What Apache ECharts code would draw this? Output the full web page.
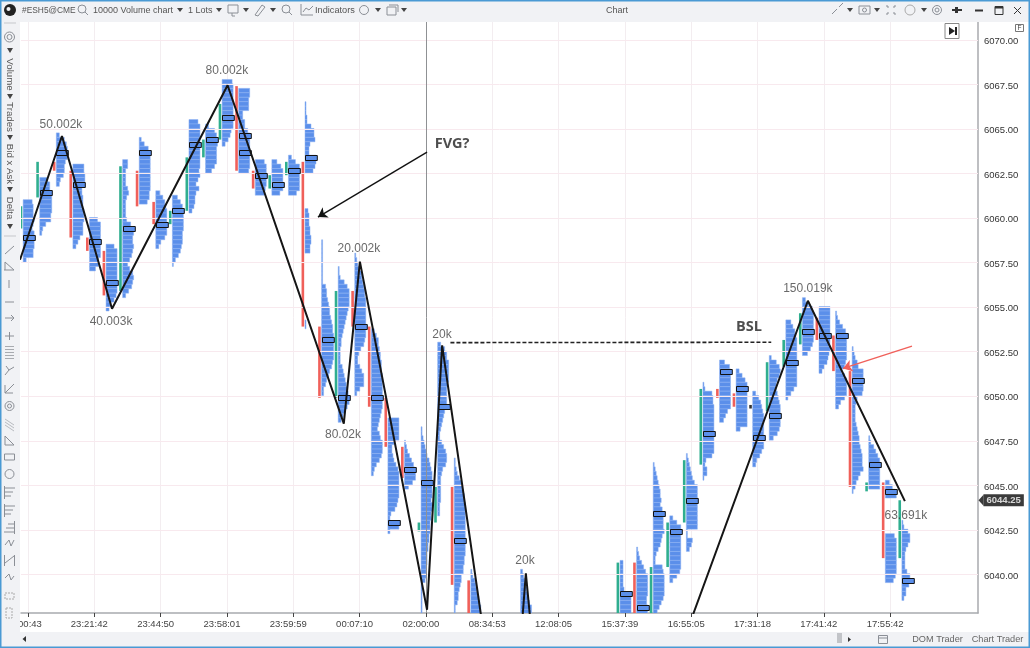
<!DOCTYPE html>
<html><head><meta charset="utf-8">
<style>html,body{margin:0;padding:0;background:#fff}#c{width:1030px;height:648px}</style>
<script src="https://cdn.jsdelivr.net/npm/echarts@6/dist/echarts.min.js"></script>
</head><body><div id="c"></div>
<script>
// ---------- data ----------
const priceTicks = [6040,6042.5,6045,6047.5,6050,6052.5,6055,6057.5,6060,6062.5,6065,6067.5,6070];
const timeLabels = ['00:43','23:21:42','23:44:50','23:58:01','23:59:59','00:07:10','02:00:00','08:34:53','12:08:05','15:37:39','16:55:05','17:31:18','17:41:42','17:55:42'];
const lastPrice = 6044.25;
// bar number, body high, body low, direction (1 up, -1 down, 0 doji)
const barNumbers = [0,1,2,3,4,5,6,7,8,9,10,11,12,13,14,15,16,17,18,19,20,21,22,23,24,25,26,27,36,37,38,39,40,41,42,43,44,45,46,47,48,49,50,51,52,53];
const bodyHigh = [6060.75,6063.25,6063.25,6062.75,6059,6058.25,6063,6062.75,6061,6060.5,6063.5,6064.5,6066.5,6067.5,6062.75,6062.5,6063.25,6063.25,6054,6056,6056,6054,6050,6047.25,6043,6045,6045,6039.75,6040.75,6040.75,6040.5,6043,6046.5,6050.5,6050.5,6050.25,6049.6,6052,6053.25,6054.75,6054.5,6053.5,6051.5,6045.25,6045.25,6044.25];
const bodyLow = [6059.5,6061.25,6062.75,6059,6058.25,6055.75,6056,6060.75,6059.75,6059.75,6060.5,6063.5,6064.5,6062.75,6061.75,6061.75,6062.5,6054,6050,6050,6054,6049.5,6047.25,6045.5,6042.5,6043,6039.5,6037,6037,6037,6037,6040.5,6043,6046.25,6050,6049.5,6049.4,6049.25,6051.75,6053,6053.25,6051.5,6045,6044.75,6041,6041];
const bodyDir = [1,1,-1,-1,-1,-1,1,-1,-1,1,1,1,1,-1,-1,1,1,-1,-1,1,-1,-1,-1,-1,1,1,-1,-1,1,-1,1,1,1,1,-1,-1,0,1,1,1,-1,-1,-1,1,-1,1];
// point of control boxes
const pocBars = [0,1,2,3,4,5,6,7,8,9,10,11,12,13,13,14,15,16,17,18,19,20,21,22,23,24,25,26,36,37,38,39,40,41,42,43,44,45,46,47,48,49,50,51,52,53];
const pocPrices = [6059,6061.5,6063.75,6062,6058.75,6056.5,6059.5,6063.75,6059.75,6060.5,6064.25,6064.5,6065.75,6064.75,6063.75,6062.5,6062,6062.75,6063.5,6053.25,6050,6054,6050,6043,6046,6045.25,6049.5,6042,6039,6038.25,6043.5,6042.5,6044.25,6048,6051.5,6050.5,6047.75,6049,6052,6053.75,6053.5,6053.5,6051,6046.25,6044.75,6039.75];
// volume profile of every bar: bar number, top price, volume per 0.25 level from the top down
const profileBars = [0,1,2,3,4,5,6,7,8,9,10,11,12,13,14,15,16,17,18,19,20,21,22,23,24,25,26,27,30,36,37,38,39,40,41,42,43,44,45,46,47,48,49,50,51,52,53];
const profileTops = [6061,6062.25,6064.75,6063,6060,6058.5,6063.25,6064.5,6061.5,6061.25,6065.5,6065.25,6067.75,6067.25,6063.25,6063.25,6063.5,6066.5,6058.75,6057.25,6058,6053.75,6048.75,6047.5,6048.25,6053,6046.5,6040.25,6040.25,6040.75,6041.5,6046.25,6043.25,6046.75,6050.75,6052,6051.5,6050.25,6052.25,6054.25,6055.5,6055,6054.75,6052.75,6047.75,6045.25,6043];
const profileVolumes = [
 [9,10,10,10,11,10,9,11,11,11,11,10,10,3],
 [8,10,10,11,12,12,12,12,11,11,6,3,2],
 [3,8,10,11,11,11,9,8,8,7,4,3],
 [11,11,12,12,11,9,9,10,10,10,11,11,11,10,10,10,7,5,3],
 [8,11,11,11,11,11,11,11,11,9,9,6],
 [8,11,11,11,11,11,11,11,11,11,11,10,8,5,3],
 [5,5,3,3,3,3,5,6,4,3,3,3,3,4,8,11,11,10,10,11,10,9,7,5,7,10,11,10,9,6,3],
 [2,5,9,11,11,11,11,11,11,11,11,11,10,10,8],
 [4,7,9,10,11,11,11,11,11,11,9,5,3],
 [5,8,10,11,11,11,11,11,10,10,10,9,8,6,3,1],
 [9,11,11,11,11,11,11,11,11,11,11,10,11,9,7,10,7,6,6,5,3],
 [3,9,11,12,12,11,11,11,11,9,6],
 [10,11,11,11,11,11,11,11,11,11,11,9,8,6,3],
 [11,11,10,10,10,4,4,6,6,9,11,11,11,11,11,11,11,11,10],
 [9,11,11,11,11,11,10,9],
 [5,9,11,11,11,11,11,8],
 [3,7,11,11,11,11,11,11,8],
 [1,1,1,2,2,6,9,9,10,5,4,4,11,11,10,8,0,0,0,0,0,0,0,0,3,4,4,4,5,5,6,6,5,5,0,0,0,0,0,0,0,0,0,0,0,0,0,0,0,1,1],
 [1,1,1,1,1,1,1,1,1,1,4,5,5,6,7,8,8,9,10,11,11,12,12,12,12,12,12,11,10,8,7,5,4,2,2],
 [1,1,2,6,9,11,11,11,11,10,9,8,7,6,5,4,3,3,2,2,2,2,4,5,6,7,8,9,10,11,11,9,7,5,3],
 [1,2,3,4,7,7,8,9,10,10,11,11,11,11,11,11,11,11,11,10,9,6,4,3,3,5,7,9,9,9,5,2],
 [3,5,7,7,8,9,9,10,10,10,11,11,11,11,11,11,11,11,10,9,8,7,6,8,9,11,11,11,10,8,5,3,2],
 [11,11,11,11,11,6,4,4,5,6,8,10,11,11,11,11,11,11,10,9,7,3,2,2,11,2],
 [1,2,3,5,7,9,10,11,11,8,4],
 [1,1,2,3,4,5,6,8,9,10,11,11,11,11,11,11,10,11,11,10,10,9,9,9,8,8,7,7,6,6,6,5,5,5,4,1,1,1,1,1,1,1],
 [3,7,9,9,11,11,11,11,11,10,9,9,9,9,9,7,6,5,4,3,2,2,4,6,8,9,9,8,5,4,3,3,3,3,3,3,2,2,2],
 [1,1,2,3,5,7,8,9,10,10,11,11,11,11,11,11,11,11,11,11,11,11,10,10,9,9,7,7,6,5,4,4,3,1,1],
 [1,2,4,5,6,7,8,9,10,10],
 [2,3,4,5,6,7,8,9,11,11],
 [3,3,3,3,3,3,4,9,11,11,11,11],
 [1,2,3,5,7,9,11,11,11,11,11,10,10,11,11],
 [1,2,3,4,5,6,7,7,8,7,9,8,10,10,10,11,9,8,7,5,3,2,2,9,10,11,11,11,11,11,10,8,6,4],
 [3,7,11,11,11,11,11,11,11,11,11,11,10,7,3],
 [1,2,3,4,5,6,8,11,11,11,11,11,11,11,11,11,11,1,1,6,5,3],
 [1,2,9,10,10,11,11,11,11,11,11,11,11,11,11,11,9,3,2,4,4,1],
 [5,10,11,11,11,11,11,11,11,11,11,8,6,4],
 [3,6,9,11,11,11,11,11,11,11,11,11,11,4],
 [3,6,8,9,10,11,11,11,11,11,11,11,11,9,7,4,3],
 [2,7,10,11,10,8,7,7,8,9,10,11,11,11,11,11,10,8,4],
 [5,7,9,10,11,11,11,11,11,11,11,11,11,11,11,8,5,2],
 [3,6,10,11,11,11,11,11,11,11,10,8,5],
 [11,11,11,11,11,11,11,11,11,11,10,9,8,5,3],
 [1,2,4,7,10,11,11,11,11,11,11,10,9,6,9,11,11,11,11,9,5,3],
 [1,2,3,5,6,11,11,11,11,11,10,5,4,3,3,3,3,4,5,6,7,7,8,9,10,10,10,11,8,6,4,3,1],
 [1,2,5,7,9,11,11,11,11,11,11,11],
 [4,7,10,11,0,0,0,0,0,0,0,0,9,11,11,11,11,11,11,11,11,10,8],
 [1,2,6,8,8,6,4,3,3,3,3,5,8,8,7,4,4,2]
];
// zigzag volume swings (bar position, price); null breaks the line where it leaves the chart
const swingX = [-0.06,2.47,5.49,12.46,19.47,20.44,24.49,25.4,27.75,null,30.25,30.45,30.7,null,40.5,47.46,53.31];
const swingP = [6057.75,6064.7,6055,6067.55,6048.55,6057.65,6038.1,6052.95,6037.75,null,6037.7,6040.15,6037.7,null,6037.75,6055.45,6044.2];
const bslX = [25.9,45.25];
const bslP = [6053.1,6053.12];
const crossX = 24.43;
const noteTexts = ['50.002k','80.002k','40.003k','20.002k','80.02k','20k','20k','150.019k','63.691k'];
const noteX = [2.41,12.42,5.43,20.38,19.42,25.39,30.4,47.46,53.37];
const noteP = [6065.35,6068.35,6054.3,6058.4,6047.95,6053.55,6040.85,6056.1,6043.4];
const boldTexts = ['FVG?','BSL'];
const boldX = [26,43.9];
const boldP = [6064.25,6054];
const arrowFrom = [[24.49,6063.8],[53.74,6052.9]];
const arrowTo = [[17.91,6060.15],[49.58,6051.65]];

// ---------- flat tables for the library ----------
const profileRows = [];
profileBars.forEach((bar,i)=>profileVolumes[i].forEach((v,k)=>{ if(v>0) profileRows.push([bar,profileTops[i]-k*0.25,v]); }));
const bodyRows = barNumbers.map((b,i)=>[b,bodyHigh[i],bodyLow[i],bodyDir[i]]);
const pocRows = pocBars.map((b,i)=>[b,pocPrices[i]]);
const swingRows = swingX.map((x,i)=>[x,swingP[i]]);
const noteRows = noteTexts.map((t,i)=>({value:[noteX[i],noteP[i]],name:t}));
const boldRows = boldTexts.map((t,i)=>({value:[boldX[i],boldP[i]],name:t}));

const BLUE='#5b8fea', RED='#f0605a', GREEN='#2fae8f', DARK='#333', UI='#555', MUTED='#8b8f96', FONT='"Liberation Sans",Arial,sans-serif';
const UNIT=1/16.58, OFFSET=0.13, GRID_SHIFT=0.09;

function profileItem(params,api){
  const x=api.value(0),p=api.value(1),v=api.value(2);
  const a=api.coord([x+OFFSET,p+0.125]), b=api.coord([x+OFFSET+v*UNIT,p-0.125]);
  return {type:'rect',shape:{x:a[0],y:a[1],width:b[0]-a[0],height:b[1]-a[1]},
    style:{fill:BLUE,stroke:'#8fb2f2',lineWidth:0.5}};
}
function bodyItem(params,api){
  const x=api.value(0),d=api.value(3);
  const a=api.coord([x,api.value(1)]), b=api.coord([x,api.value(2)]);
  return {type:'rect',shape:{x:a[0]-1.3,y:a[1],width:2.6,height:Math.max(b[1]-a[1],2)},
    style:{fill:d>0?GREEN:(d<0?RED:DARK)}};
}
function pocItem(params,api){
  const x=api.value(0),p=api.value(1);
  const a=api.coord([x+OFFSET,p]), b=api.coord([x+OFFSET+11.8*UNIT,p]);
  return {type:'rect',shape:{x:Math.round(a[0])+0.5,y:Math.round(a[1]-2.5)+0.5,width:b[0]-a[0],height:5},
    style:{fill:BLUE,stroke:'#111',lineWidth:1}};
}

// ---------- window chrome ----------
const PANEL='#f1f2f5', FRAME='#4a9ad4';
const g=[];
const add=o=>{o.z=o.z||50;g.push(o);return o;};
const txt=(x,y,t,o={})=>add({type:'text',x,y,rotation:o.rot||0,style:{text:t,fill:o.c||UI,font:(o.w||'normal')+' '+(o.s||10)+'px '+FONT,align:o.a||'left',verticalAlign:'middle'}});
const caret=(x,y,c)=>add({type:'polygon',shape:{points:[[x-3,y-2],[x+3,y-2],[x,y+2]]},style:{fill:c||'#444'}});
const stroke=(pts,c)=>add({type:'polyline',shape:{points:pts},style:{stroke:c||MUTED,lineWidth:1,fill:null}});
const ring=(x,y,r,c)=>add({type:'circle',shape:{cx:x,cy:y,r},style:{stroke:c||MUTED,lineWidth:1,fill:null}});
const box=(x,y,w,h,c,f)=>add({type:'rect',shape:{x,y,width:w,height:h},style:{stroke:c||MUTED,lineWidth:1,fill:f||null}});

add({type:'rect',shape:{x:0,y:0,width:1030,height:22},style:{fill:PANEL},z:40});
add({type:'rect',shape:{x:0,y:0,width:20,height:632},style:{fill:PANEL},z:40});
add({type:'rect',shape:{x:0,y:632,width:1030,height:16},style:{fill:PANEL},z:40});
// frame
add({type:'rect',shape:{x:0,y:0,width:1030,height:1.5},style:{fill:FRAME},z:60});
add({type:'rect',shape:{x:0,y:646.5,width:1030,height:1.5},style:{fill:FRAME},z:60});
add({type:'rect',shape:{x:0,y:0,width:1.5,height:648},style:{fill:FRAME},z:60});
add({type:'rect',shape:{x:1028.5,y:0,width:1.5,height:648},style:{fill:FRAME},z:60});
// top toolbar
add({type:'circle',shape:{cx:10,cy:10,r:6},style:{fill:'#222'}});
add({type:'circle',shape:{cx:8.5,cy:9,r:2},style:{fill:'#f1f2f5'}});
txt(22,10.5,'#ESH5@CME',{s:8.4});
ring(82,9,4); stroke([[85,12],[88,15]]);
txt(93,10.5,'10000 Volume chart',{s:9});
caret(180,10);
txt(188,10.5,'1 Lots',{s:9});
caret(219,10);
box(228,5,10,8); stroke([[232,13],[232,16],[235,16]]);
caret(246,10);
stroke([[255,15],[262,5],[265,7],[258,16],[255,15]]);
caret(273,10);
ring(286,9,4); stroke([[289,12],[292,15]]); 
stroke([[301,4],[301,15],[313,15]]); stroke([[303,12],[306,8],[309,10],[313,6]]);
txt(315,10.5,'Indicators',{s:9.2});
ring(364,10,4.5);
caret(378,10);
box(387,7,9,8); stroke([[389,5],[398,5],[398,12]]);
caret(404,10);
txt(617,10.5,'Chart',{s:9,a:'center',c:'#555'});
stroke([[832,14],[837,9]]); stroke([[839,7],[843,3]]);
caret(850,10);
box(859,6,11,8); ring(864.5,10,2);
caret(877,10);
stroke([[887,5],[887,7],[889,7]]); stroke([[895,5],[895,7],[893,7]]); stroke([[887,15],[887,13],[889,13]]); stroke([[895,15],[895,13],[893,13]]);
ring(910,10,5,'#aaa');
caret(924,10);
ring(937,10,4.5); ring(937,10,2);
add({type:'rect',shape:{x:952,y:9,width:10,height:2},style:{fill:'#333'}});
add({type:'rect',shape:{x:955,y:7,width:3,height:6},style:{fill:'#333'}});
add({type:'rect',shape:{x:975,y:9.5,width:8,height:2},style:{fill:'#333'}});
box(995,6.5,8,8,'#333'); add({type:'rect',shape:{x:995,y:6.5,width:8,height:2},style:{fill:'#333'}});
stroke([[1014,7],[1021,14]],'#333'); stroke([[1021,7],[1014,14]],'#333');
// jump-to-end button and F box
box(945,23.5,14,15,'#888','#fff');
add({type:'polygon',shape:{points:[[949,27],[949,35],[955,31]]},style:{fill:'#222'}});
add({type:'rect',shape:{x:955,y:27,width:2,height:8},style:{fill:'#222'}});
box(1015.5,24.5,8,7,'#777','#fff');
txt(1019.5,28.2,'F',{s:6.5,a:'center',c:'#444'});
// left rail
stroke([[4,23],[16,23]],'#c5c7cb');
ring(9.5,37,5); ring(9.5,37,2.5);
[51,97,138,190,227].forEach(y=>add({type:'polygon',shape:{points:[[7,y-3],[13,y-3],[10,y+2]]},style:{fill:'#444'}}));
[['Volume',74.5],['Trades',117],['Bid x Ask',164],['Delta',208]].forEach(a=>txt(9.5,a[1],a[0],{rot:-Math.PI/2,a:'center',s:9.7}));
stroke([[4,236],[16,236]],'#c5c7cb');
stroke([[5,254],[14,246]]);
stroke([[4,270],[14,270],[5,262],[5,270]]); 
stroke([[9,280],[9,288]]);
stroke([[5,302],[14,302]]);
stroke([[5,318],[14,318]]); stroke([[11,315],[14,318],[11,321]]);
stroke([[5,336],[14,336]]); stroke([[9.5,332],[9.5,340]]);
[346.5,349.5,352.5,355.5,358.5].forEach(y=>stroke([[5,y],[14,y]],'#a8abb0'));
stroke([[5,375],[9,370],[14,367]]); stroke([[9,370],[6,366]]);
stroke([[5,393],[14,384]]); stroke([[5,385],[5,393],[13,393]]);
ring(9.5,406,4.5); ring(9.5,406,2);
[0,3,6].forEach(d=>stroke([[5,419+d],[14,425+d]],'#b8bbc0'));
add({type:'polygon',shape:{points:[[5,445],[5,436],[14,445]]},style:{stroke:MUTED,fill:null,lineWidth:1}});
box(4.5,454,10,6);
ring(9.5,474,4.5);
[[488,10],[492,8],[496,6]].forEach(a=>stroke([[5,a[0]],[5+a[1],a[0]]]));stroke([[4.5,486],[4.5,499]]);
[[506,10],[510,8],[514,6]].forEach(a=>stroke([[5,a[0]],[5+a[1],a[0]]]));stroke([[4.5,504],[4.5,517]]);
[[524,6],[528,8],[532,10]].forEach(a=>stroke([[14-a[1],a[0]],[14,a[0]]]));stroke([[14.5,521],[14.5,534]]);
stroke([[5,563],[14,556]]); stroke([[4.5,555],[4.5,566]]); stroke([[14.5,555],[14.5,566]]);
stroke([[5,545],[9,540],[11,546],[14,540]]); stroke([[5,578],[9,574],[11,580],[14,576]]);
add({type:'rect',shape:{x:5,y:593,width:9,height:6},style:{stroke:'#aaa',lineDash:[2,1],fill:null,lineWidth:1}});
add({type:'rect',shape:{x:6,y:608,width:6,height:10},style:{stroke:'#aaa',lineDash:[2,1],fill:null,lineWidth:1}});
// bottom bar
add({type:'polygon',shape:{points:[[26,636],[22.5,639],[26,642]]},style:{fill:'#333'}});
add({type:'rect',shape:{x:837,y:633,width:5,height:10},style:{fill:'#c2c4c8'}});
add({type:'polygon',shape:{points:[[848,637],[851,639.5],[848,642]]},style:{fill:'#333'}});
box(878.5,635.5,9,8); stroke([[878.5,638],[887.5,638]]);
txt(937.5,639.5,'DOM Trader',{s:9.2,a:'center',c:'#666'});
txt(997.5,639.5,'Chart Trader',{s:9.2,a:'center',c:'#666'});

const chart=echarts.init(document.getElementById('c'),null,{renderer:'canvas'});
chart.setOption({
  animation:false,backgroundColor:'#fff',
  grid:{left:21,right:52,top:22,bottom:35,containLabel:false},
  xAxis:{type:'value',min:0,max:57.72,interval:4,
    axisLine:{onZero:false,lineStyle:{color:'#a8aaae',width:1.5}},
    axisTick:{show:true,length:4,inside:false,lineStyle:{color:'#444'},customValues:timeLabels.map((t,i)=>4*i+0.42)},
    axisLabel:{color:'#444',fontSize:9.5,fontFamily:FONT,margin:6,
      customValues:timeLabels.map((t,i)=>i===0?0.54:4*i+0.12),
      formatter:v=>{const i=v===0.54?0:Math.round((v-0.12)/4);return timeLabels[i]||'';}},
    splitLine:{show:true,lineStyle:{color:'#f3edf0',width:1}}},
  yAxis:{type:'value',position:'right',min:6037.92,max:6071.1,
    axisLine:{show:true,onZero:false,lineStyle:{color:'#a8aaae',width:1.5}},
    axisTick:{show:false},
    axisLabel:{color:'#333',fontSize:9.5,fontFamily:FONT,margin:6,customValues:priceTicks,formatter:v=>v.toFixed(2)},
    splitLine:{show:false}},
  graphic:{elements:g},
  series:[
    {type:'line',data:[],silent:true,z:1,markLine:{silent:true,symbol:'none',label:{show:false},animation:false,
      lineStyle:{color:'#f8e9ee',width:1,type:'solid'},data:priceTicks.map(v=>({yAxis:v+GRID_SHIFT}))}},
    {type:'custom',name:'profile',coordinateSystem:'cartesian2d',clip:true,z:3,silent:true,data:profileRows,encode:{x:0,y:1},renderItem:profileItem},
    {type:'custom',name:'body',coordinateSystem:'cartesian2d',clip:true,z:4,silent:true,data:bodyRows,encode:{x:0,y:[1,2]},renderItem:bodyItem},
    {type:'custom',name:'poc',coordinateSystem:'cartesian2d',clip:true,z:5,silent:true,data:pocRows,encode:{x:0,y:1},renderItem:pocItem},
    {type:'line',name:'cross',data:[],silent:true,z:6,markLine:{silent:true,symbol:'none',label:{show:false},animation:false,
      lineStyle:{color:'#8f9194',width:1,type:'solid'},data:[{xAxis:crossX}]}},
    {type:'line',name:'swings',data:swingRows,showSymbol:false,symbol:'none',connectNulls:false,silent:true,z:7,clip:true,lineStyle:{color:'#151515',width:2}},
    {type:'line',name:'BSL',data:bslX.map((x,i)=>[x,bslP[i]]),showSymbol:false,symbol:'none',silent:true,z:7,lineStyle:{color:'#222',width:1.6,type:[4,2]}},
    {type:'lines',name:'arrow1',coordinateSystem:'cartesian2d',silent:true,z:8,symbol:['none','arrow'],symbolSize:9,
      data:[{coords:[arrowFrom[0],arrowTo[0]]}],lineStyle:{color:'#111',width:1.4,opacity:1}},
    {type:'lines',name:'arrow2',coordinateSystem:'cartesian2d',silent:true,z:8,symbol:['none','arrow'],symbolSize:9,
      data:[{coords:[arrowFrom[1],arrowTo[1]]}],lineStyle:{color:RED,width:1.4,opacity:1}},
    {type:'scatter',name:'notes',symbolSize:0,silent:true,z:9,data:noteRows,
      label:{show:true,position:'inside',formatter:p=>p.name,color:'#444',fontSize:12,fontFamily:FONT}},
    {type:'scatter',name:'bold',symbolSize:0,silent:true,z:9,data:boldRows,
      label:{show:true,position:'inside',formatter:p=>p.name,color:'#222',fontSize:14.5,fontWeight:'bold',fontFamily:'"Open Sans",'+FONT}},
    {type:'scatter',name:'last',symbol:'triangle',symbolRotate:90,symbolSize:[11,5],symbolOffset:[3,0],silent:true,z:10,clip:false,
      itemStyle:{color:'#0a0a0a'},data:[{value:[57.72,lastPrice]}],
      label:{show:true,position:'right',distance:0,formatter:()=>lastPrice.toFixed(2),color:'#fff',fontSize:9.5,fontWeight:'bold',fontFamily:FONT,backgroundColor:'#0a0a0a',padding:[1,3,1,3]}}
  ]
});
</script></body></html>
